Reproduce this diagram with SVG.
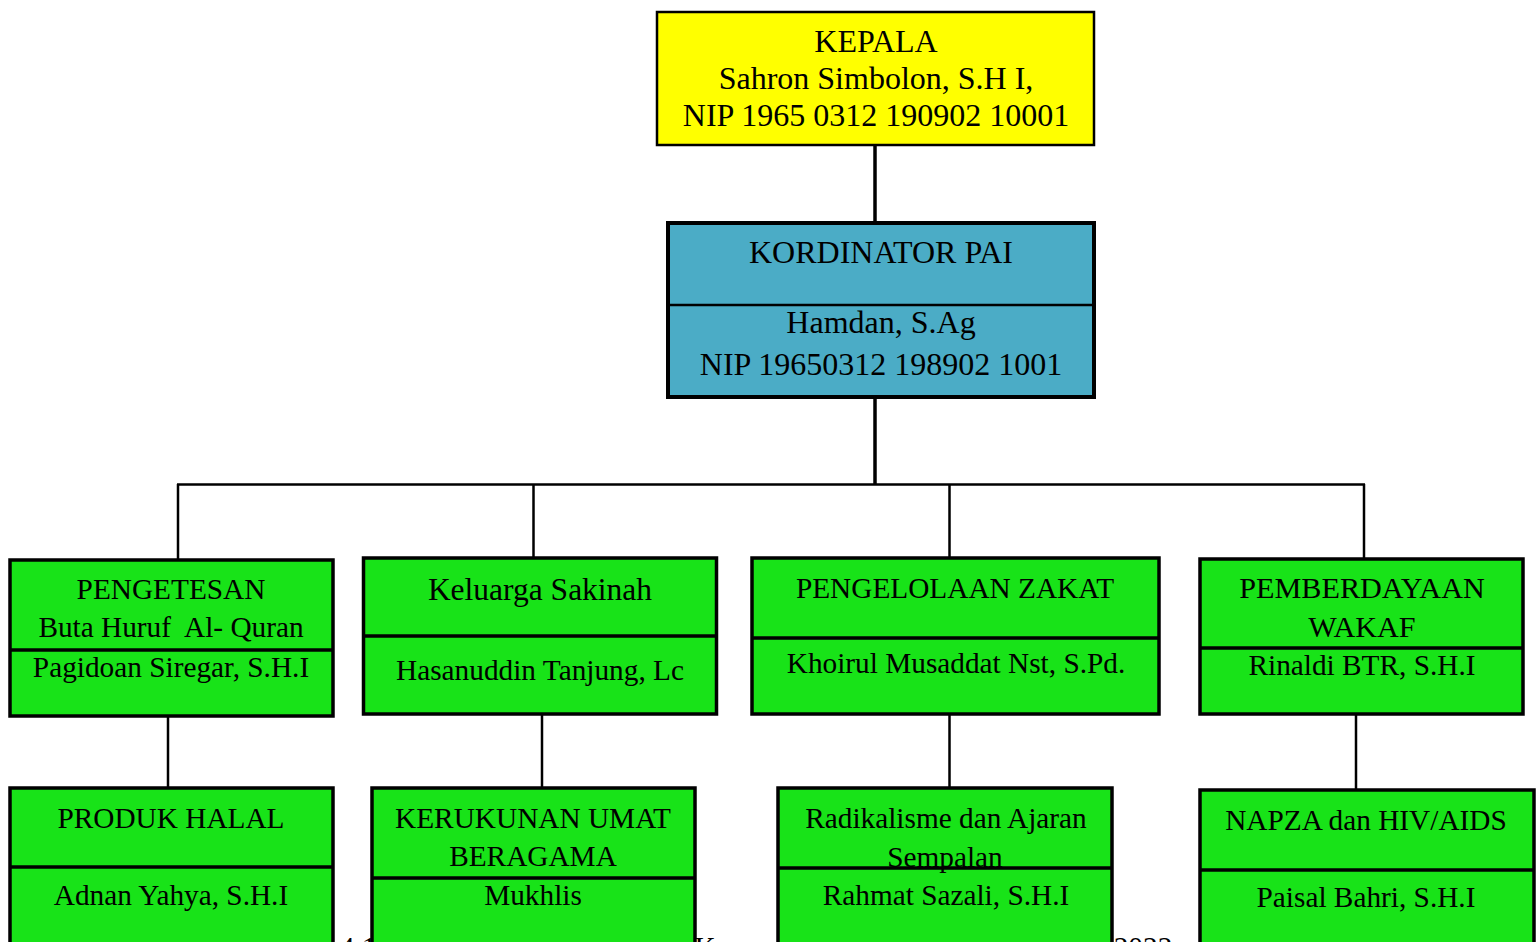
<svg xmlns="http://www.w3.org/2000/svg" width="1539" height="942" viewBox="0 0 1539 942">
<style>
text{font-family:"Liberation Serif","Times New Roman",serif;fill:#000;text-anchor:middle}
.t31{font-size:32px}
.t29{font-size:29.3px}
.g{fill:#18E318;stroke:#000;stroke-width:3.5}
.div{stroke:#000;stroke-width:3.5}
.c{stroke:#000;fill:none}
</style>
<rect width="1539" height="942" fill="#fff"/>
<g id="footer-fragments" class="t29">
<text x="358" y="957">4 1</text>
<text x="705" y="957">K</text>
<text x="1143" y="957">2022</text>
</g>
<g id="connectors">
<line class="c" x1="875" y1="145" x2="875" y2="222" stroke-width="3.5"/>
<line class="c" x1="875" y1="398" x2="875" y2="485" stroke-width="3.5"/>
<line class="c" x1="177" y1="484.5" x2="1365" y2="484.5" stroke-width="2.5"/>
<line class="c" x1="178" y1="484" x2="178" y2="559" stroke-width="2.5"/>
<line class="c" x1="533.5" y1="484" x2="533.5" y2="557" stroke-width="2.5"/>
<line class="c" x1="949.5" y1="484" x2="949.5" y2="557" stroke-width="2.5"/>
<line class="c" x1="1364" y1="484" x2="1364" y2="558" stroke-width="2.5"/>
<line class="c" x1="168" y1="716" x2="168" y2="788" stroke-width="2.5"/>
<line class="c" x1="542" y1="715" x2="542" y2="788" stroke-width="2.5"/>
<line class="c" x1="949.5" y1="715" x2="949.5" y2="788" stroke-width="2.5"/>
<line class="c" x1="1356" y1="715" x2="1356" y2="790" stroke-width="2.5"/>
</g>
<g id="kepala">
<rect x="657" y="12" width="437" height="133" fill="#FFFF00" stroke="#000" stroke-width="2.5"/>
<text class="t31" x="876" y="52">KEPALA</text>
<text class="t31" x="876" y="89">Sahron Simbolon, S.H I,</text>
<text class="t31" x="876" y="126">NIP 1965 0312 190902 10001</text>
</g>
<g id="kordinator">
<rect x="668" y="223" width="426" height="174" fill="#4BACC6" stroke="#000" stroke-width="4"/>
<line x1="668" y1="305" x2="1094" y2="305" stroke="#000" stroke-width="2.5"/>
<text class="t31" x="881" y="263">KORDINATOR PAI</text>
<text class="t31" x="881" y="333">Hamdan, S.Ag</text>
<text class="t31" x="881" y="375">NIP 19650312 198902 1001</text>
</g>
<g id="pengetesan">
<rect class="g" x="10" y="560" width="323" height="156"/>
<line class="div" x1="10" y1="650" x2="333" y2="650"/>
<text class="t29" x="171" y="599">PENGETESAN</text>
<text class="t29" x="171" y="637" xml:space="preserve">Buta Huruf  Al- Quran</text>
<text class="t29" x="171" y="677">Pagidoan Siregar, S.H.I</text>
</g>
<g id="keluarga-sakinah">
<rect class="g" x="363.5" y="558" width="353" height="156"/>
<line class="div" x1="363.5" y1="636" x2="716.5" y2="636"/>
<text x="540" y="600" style="font-size:31.5px">Keluarga Sakinah</text>
<text class="t29" x="540" y="680">Hasanuddin Tanjung, Lc</text>
</g>
<g id="zakat">
<rect class="g" x="752" y="558" width="407" height="156"/>
<line class="div" x1="752" y1="638" x2="1159" y2="638"/>
<text class="t29" x="955" y="598">PENGELOLAAN ZAKAT</text>
<text class="t29" x="956" y="673">Khoirul Musaddat Nst, S.Pd.</text>
</g>
<g id="wakaf">
<rect class="g" x="1200" y="559" width="323" height="155"/>
<line class="div" x1="1200" y1="648" x2="1523" y2="648"/>
<text x="1362" y="598" style="font-size:30.2px">PEMBERDAYAAN</text>
<text x="1362" y="637" style="font-size:30.2px">WAKAF</text>
<text class="t29" x="1362" y="675">Rinaldi BTR, S.H.I</text>
</g>
<g id="produk-halal">
<rect class="g" x="10" y="788" width="323" height="180"/>
<line class="div" x1="10" y1="867" x2="333" y2="867"/>
<text class="t29" x="171" y="828">PRODUK HALAL</text>
<text class="t29" x="171" y="905">Adnan Yahya, S.H.I</text>
</g>
<g id="kerukunan">
<rect class="g" x="372" y="788" width="323" height="180"/>
<line class="div" x1="372" y1="878" x2="695" y2="878"/>
<text class="t29" x="533" y="828">KERUKUNAN UMAT</text>
<text class="t29" x="533" y="866">BERAGAMA</text>
<text class="t29" x="533" y="905">Mukhlis</text>
</g>
<g id="radikalisme">
<rect class="g" x="778" y="788" width="334" height="180"/>
<line class="div" x1="778" y1="868" x2="1112" y2="868"/>
<text class="t29" x="946" y="828">Radikalisme dan Ajaran</text>
<text class="t29" x="945" y="867">Sempalan</text>
<text class="t29" x="946" y="905">Rahmat Sazali, S.H.I</text>
</g>
<g id="napza">
<rect class="g" x="1200" y="790" width="334" height="180"/>
<line class="div" x1="1200" y1="870" x2="1534" y2="870"/>
<text class="t29" x="1366" y="830">NAPZA dan HIV/AIDS</text>
<text class="t29" x="1366" y="907">Paisal Bahri, S.H.I</text>
</g>
</svg>
